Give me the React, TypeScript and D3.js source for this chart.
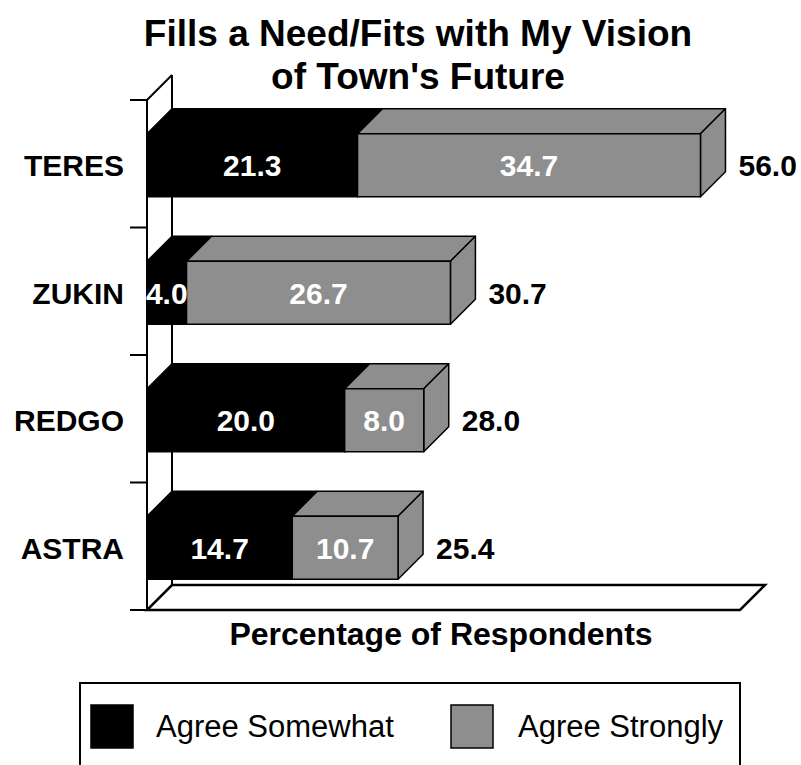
import React from "react";
import * as d3 from "d3";

const categories = ["TERES", "ZUKIN", "REDGO", "ASTRA"];
const agreeSomewhat = [21.3, 4.0, 20.0, 14.7];
const agreeStrongly = [34.7, 26.7, 8.0, 10.7];
const totals = [56.0, 30.7, 28.0, 25.4];
const seriesNames = ["Agree Somewhat", "Agree Strongly"];
const titleLines = ["Fills a Need/Fits with My Vision", "of Town's Future"];
const axisTitle = "Percentage of Respondents";

const W = 801;
const H = 765;
const GRAY = "#8e8e8e";
const FONT = "'Liberation Sans', Arial, Helvetica, sans-serif";

export default function App() {
  const x = d3.scaleLinear().domain([0, 60]).range([147, 740]);
  const y = d3
    .scaleBand<string>()
    .domain(categories)
    .range([100, 610])
    .paddingInner(0.506)
    .paddingOuter(0.253);
  const D = 25; // depth
  const yOff = 1.5;
  const x0 = x(0);
  const yTop = 100;
  const yBot = 610;
  const boundaries = d3.range(categories.length + 1).map((i) => yTop + i * y.step());

  const box = (xa: number, xb: number, yt: number, h: number, fill: string, side: boolean, key: string) => {
    const top = `M${xa},${yt} L${xb},${yt} L${xb + D},${yt - D} L${xa + D},${yt - D} Z`;
    const sidePath = `M${xb},${yt} L${xb + D},${yt - D} L${xb + D},${yt + h - D} L${xb},${yt + h} Z`;
    return (
      <g key={key}>
        <path d={top} fill={fill} stroke="#000" strokeWidth={1.5} strokeLinejoin="round" />
        {side && <path d={sidePath} fill={fill} stroke="#000" strokeWidth={1.5} strokeLinejoin="round" />}
        <rect x={xa} y={yt} width={xb - xa} height={h} fill={fill} stroke="#000" strokeWidth={1.5} />
      </g>
    );
  };

  return (
    <svg
      width={W}
      height={H}
      style={{ position: "absolute", left: 0, top: 0, background: "#fff" }}
      fontFamily={FONT}
    >
      <rect x={0} y={0} width={W} height={H} fill="#fff" />
      {/* Title */}
      {titleLines.map((t, i) => (
        <text key={t} x={418} y={46 + i * 43} textAnchor="middle" fontSize={37} fontWeight="bold">
          {t}
        </text>
      ))}

      {/* Wall */}
      <line x1={x0} y1={yTop} x2={x0} y2={yBot} stroke="#000" strokeWidth={2} />
      <line x1={x0 + D} y1={yTop - D} x2={x0 + D} y2={yBot - D} stroke="#000" strokeWidth={2} />
      <line x1={x0} y1={yTop} x2={x0 + D} y2={yTop - D} stroke="#000" strokeWidth={2} />
      {boundaries.map((b, i) => (
        <line key={i} x1={130} y1={b} x2={x0} y2={b} stroke="#000" strokeWidth={2} />
      ))}

      {/* Floor */}
      <path
        d={`M${x0},${yBot} L${x(60)},${yBot} L${x(60) + D},${yBot - D} L${x0 + D},${yBot - D} Z`}
        fill="#fff"
        stroke="#000"
        strokeWidth={2.5}
        strokeLinejoin="miter"
      />

      {/* Bars */}
      {categories.map((c, i) => {
        const yt = (y(c) as number) + yOff;
        const h = y.bandwidth();
        const xa = x(0);
        const xm = x(agreeSomewhat[i]);
        const xb = x(agreeSomewhat[i] + agreeStrongly[i]);
        const cy = yt + h / 2;
        return (
          <g key={c}>
            {box(xa, xm, yt, h, "#000", false, "s")}
            {box(xm, xb, yt, h, GRAY, true, "g")}
            <text x={(xa + xm) / 2} y={cy + 11} textAnchor="middle" fontSize={30} fontWeight="bold" fill="#fff">
              {agreeSomewhat[i].toFixed(1)}
            </text>
            <text x={(xm + xb) / 2} y={cy + 11} textAnchor="middle" fontSize={30} fontWeight="bold" fill="#fff">
              {agreeStrongly[i].toFixed(1)}
            </text>
            <text x={x(totals[i]) + D + 13} y={cy + 11} fontSize={30} fontWeight="bold" fill="#000">
              {totals[i].toFixed(1)}
            </text>
            <text x={124} y={cy + 11} textAnchor="end" fontSize={30} fontWeight="bold" fill="#000">
              {c}
            </text>
          </g>
        );
      })}

      {/* Axis title */}
      <text x={441} y={645} textAnchor="middle" fontSize={32} fontWeight="bold">
        {axisTitle}
      </text>

      {/* Legend */}
      <rect x={80} y={683} width={660} height={90} fill="#fff" stroke="#000" strokeWidth={2} />
      <rect x={91} y={705} width={42} height={43} fill="#000" stroke="#000" strokeWidth={1.5} />
      <text x={156} y={737} fontSize={31}>
        {seriesNames[0]}
      </text>
      <rect x={451} y={705} width={42} height={43} fill={GRAY} stroke="#000" strokeWidth={1.5} />
      <text x={518} y={737} fontSize={31}>
        {seriesNames[1]}
      </text>
    </svg>
  );
}
